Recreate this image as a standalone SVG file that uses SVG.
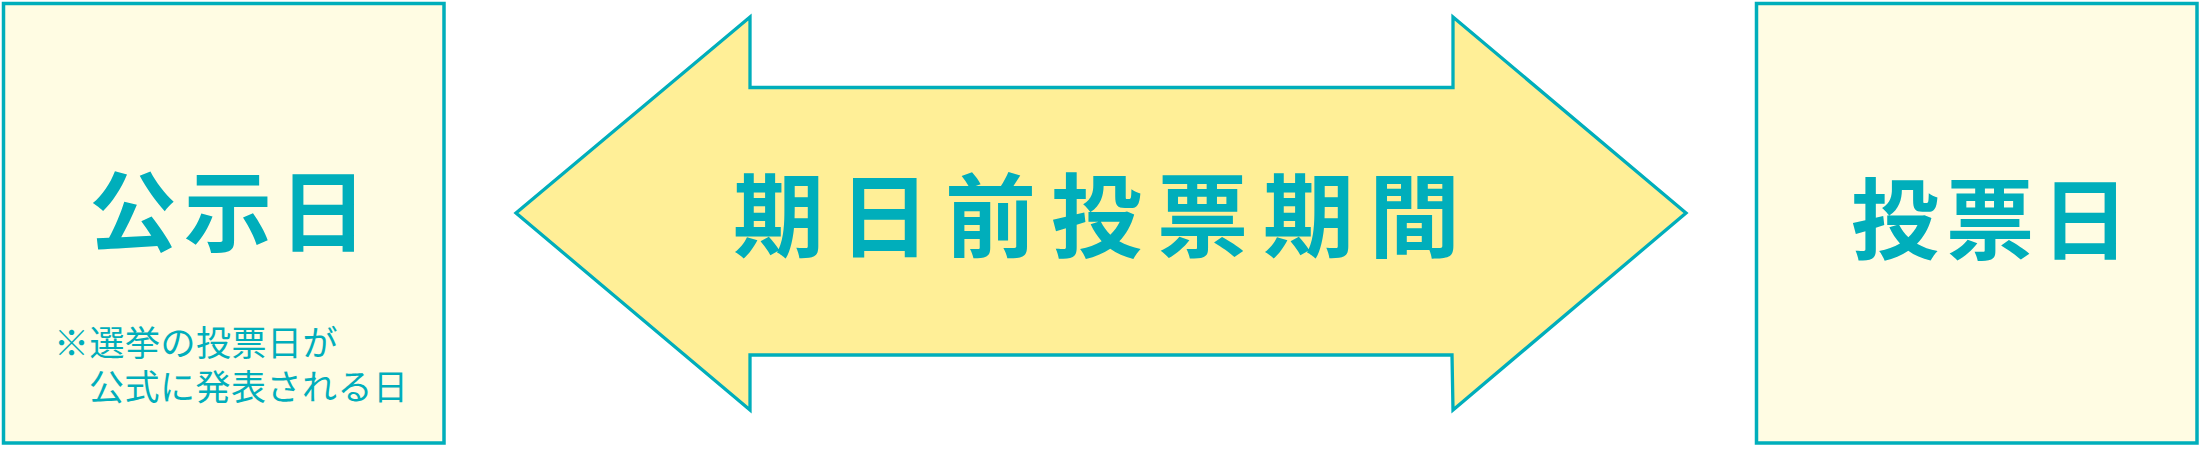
<svg xmlns="http://www.w3.org/2000/svg" width="2200" height="450" viewBox="0 0 2200 450">
  <style>
    .box { fill: #FFFCE3; stroke: #00AEBB; stroke-width: 3.5; }
    .arrow { fill: #FFEF97; stroke: #00AEBB; stroke-width: 3.3; stroke-linejoin: miter; }
    .t { font-family: "Noto Sans CJK JP", "Noto Sans", sans-serif; fill: #00AEBB; }
    .big { font-size: 88px; font-weight: 700; letter-spacing: 7px; }
    .mid { font-size: 91px; font-weight: 700; letter-spacing: 15px; }
    .note { font-size: 35px; font-weight: 400; letter-spacing: 0.5px; }
  </style>
  <rect width="2200" height="450" fill="#FFFFFF"/>
  <g id="connectors">
    <g id="period-arrow">
      <polygon class="arrow" points="516,213 750,17 750,87.5 1453,87.5 1453,17 1686,213 1453,410 1452,355 750,355 750,410"/>
      <text class="t mid" x="733" y="250">期日前投票期間</text>
    </g>
  </g>
  <g id="node-kokujibi">
    <rect class="box" x="3.5" y="3.5" width="440.5" height="439.5"/>
    <text class="t big" x="89" y="244">公示日</text>
    <text class="t note" x="54" y="355.5">※選挙の投票日が<tspan x="89" y="399.5">公式に発表される日</tspan></text>
  </g>
  <g id="node-touhyoubi">
    <rect class="box" x="1756.5" y="3.5" width="440.5" height="439.5"/>
    <text class="t big" x="1851" y="252">投票日</text>
  </g>
</svg>
